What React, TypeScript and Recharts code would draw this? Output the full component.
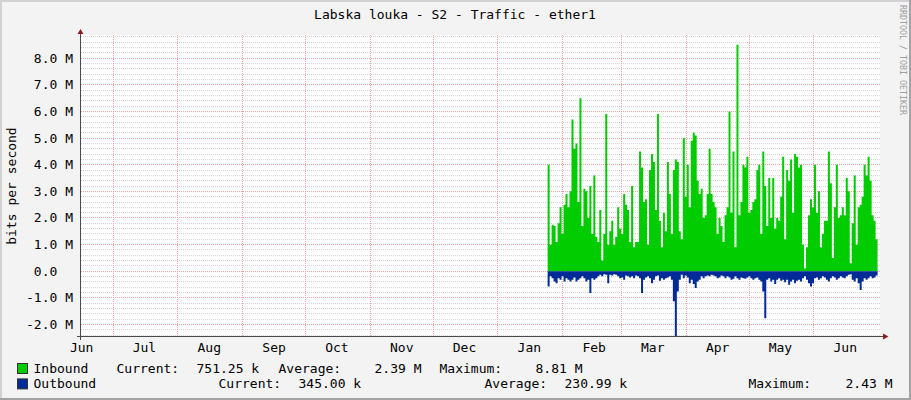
import { ComposedChart, Area, XAxis, YAxis, ReferenceLine } from "recharts"

// days counted from 1 Jun of the first year
const monthStartDays = [30, 61, 92, 122, 153, 183, 214, 245, 273, 304, 334, 365]
const monthLabelDays = [15, 45, 76, 107, 137, 168, 198, 229, 260, 288, 319, 349, 380]
const monthLabels = ["Jun", "Jul", "Aug", "Sep", "Oct", "Nov", "Dec", "Jan", "Feb", "Mar", "Apr", "May", "Jun"]

const yTicksM = [-2, -1, 0, 1, 2, 3, 4, 5, 6, 7, 8]

// rrd samples, one every SAMPLE_DAYS starting at FIRST_SAMPLE_DAY (values in Mbit/s)
const FIRST_SAMPLE_DAY = 237.74
const SAMPLE_DAYS = 0.95

const inboundM = [
    4.0, 1.0, 1.75, 1.7, 1.1, 1.8, 2.4, 1.4, 2.5, 2.9, 2.4, 3.0, 5.7, 4.6, 4.8, 2.6, 6.5, 1.7, 3.1, 3.0,
    2.0, 3.2, 1.4, 3.6, 1.3, 1.1, 2.3, 0.4, 1.4, 5.9, 1.0, 1.5, 1.9, 1.0, 1.3, 2.4, 1.6, 1.4, 2.9, 2.5,
    2.3,
    1.1, 3.2, 0.9, 1.1, 1.1, 4.5, 3.9, 2.6, 2.7, 1.0, 3.8, 4.4, 4.1, 2.3, 5.9, 1.9, 0.9, 2.2, 1.5, 4.1,
    2.9, 1.4, 3.8, 4.2, 4.1, 1.5, 1.2, 5.0, 2.8, 4.0, 2.4, 4.9, 5.2, 5.1, 3.4, 2.9, 3.1, 2.0, 2.1, 2.9,
    4.6, 2.9, 2.6,
    2.4, 1.4, 2.0, 1.7, 1.1, 2.1, 2.4, 6.0, 2.2, 4.5, 0.9, 8.5, 2.1, 2.6, 4.0, 3.9, 4.3, 2.2, 2.3, 2.6,
    2.7, 3.8, 4.0, 1.4, 4.5, 3.2, 1.7, 3.5, 2.0, 3.5, 1.6, 2.0, 1.9, 2.8, 4.3, 1.2, 3.8, 3.4, 4.2, 2.2,
    4.4, 4.3, 3.9,
    4.0, 1.0, 0.1, 0.9, 2.1, 2.7, 2.4, 4.0, 2.2, 3.0, 0.9, 1.4, 1.9, 1.9, 4.5, 3.3, 0.5, 2.4, 4.0, 2.0,
    2.1, 2.4, 2.1, 3.5, 3.0, 0.3, 1.8, 3.6, 1.0, 2.4, 2.5, 2.8, 4.0, 3.6, 4.3, 3.4, 2.1, 1.9, 1.2, 0.75,
]

const outboundM = [
    -0.57, -0.19, -0.26, -0.38, -0.45, -0.26, -0.32, -0.19, -0.38, -0.26, -0.32, -0.38, -0.32, -0.23, -0.38, -0.32, -0.26, -0.19, -0.26, -0.38,
    -0.32, -0.82, -0.26, -0.32, -0.26, -0.19, -0.13, -0.19, -0.11, -0.13, -0.45, -0.13, -0.16, -0.11, -0.13, -0.19, -0.26, -0.23, -0.32, -0.16,
    -0.19,
    -0.23, -0.19, -0.26, -0.16, -0.19, -0.26, -0.82, -0.32, -0.23, -0.19, -0.26, -0.45, -0.32, -0.19, -0.16, -0.36, -0.26, -0.32, -0.26, -0.23,
    -0.19, -0.32, -1.13, -2.43, -0.76, -0.32, -0.13, -0.26, -0.16, -0.23, -0.45, -0.32, -0.48, -0.63, -0.38, -0.32, -0.19, -0.26, -0.19, -0.16,
    -0.19, -0.13, -0.16,
    -0.19, -0.26, -0.23, -0.16, -0.19, -0.26, -0.19, -0.23, -0.32, -0.28, -0.19, -0.26, -0.32, -0.23, -0.26, -0.28, -0.23, -0.19, -0.26, -0.32,
    -0.26, -0.23, -0.32, -0.38, -0.76, -1.76, -0.32, -0.26, -0.38, -0.32, -0.48, -0.32, -0.26, -0.36, -0.32, -0.41, -0.32, -0.51, -0.38, -0.32,
    -0.45, -0.36, -0.32,
    -0.38, -0.26, -0.19, -0.32, -0.45, -0.57, -0.45, -0.26, -0.23, -0.32, -0.26, -0.19, -0.23, -0.32, -0.38, -0.26, -0.19, -0.23, -0.32, -0.26,
    -0.19, -0.23, -0.26, -0.19, -0.13, -0.11, -0.32, -0.38, -0.26, -0.45, -0.70, -0.38, -0.26, -0.32, -0.26, -0.19, -0.26, -0.23, -0.16, -0.35,
]

const legendRows = [
    { name: "Inbound", color: "#00CC00", cells: [["Current:", 117], ["751.25 k", 197], ["Average:", 279], ["2.39 M", 375], ["Maximum:", 440], ["8.81 M", 536]] },
    { name: "Outbound", color: "#002A97", cells: [["Current:", 219], ["345.00 k", 299], ["Average:", 485], ["230.99 k", 565], ["Maximum:", 749], ["2.43 M", 846]] },
]

const M = 1e6
const data = inboundM.map((v, i) => ({
    day: FIRST_SAMPLE_DAY + i * SAMPLE_DAYS,
    inbound: v * M,
    outbound: outboundM[i] * M,
}))

const minorGrid: number[] = []
for (let i = -12; i <= 44; i++) {
    if (i % 5 !== 0) minorGrid.push((i / 5) * M)
}

const X_DOMAIN = [14.7, 396.6]
const Y_DOMAIN = [-2.43 * M, 8.87 * M]
const W = 911
const H = 400

const FONT = "'DejaVu Sans Mono', monospace"
const CHAR = 7.83

const YTick = (props: any) => {
    const { x, y, payload } = props
    const v = payload.value / M
    const label = v === 0 ? "0.0" : `${v.toFixed(1)} M`
    // x sits on the axis line (tickSize/tickMargin are 0)
    return (
        <text x={v === 0 ? x - 8 - 2 * CHAR : x - 8} y={y + 4.5} textAnchor="end" fontFamily={FONT} fontSize={13} fill="#000">
            {label}
        </text>
    )
}

const XTick = (props: any) => {
    const { x, y, payload } = props
    const idx = monthLabelDays.indexOf(payload.value)
    return (
        <text x={x} y={y + 15.5} textAnchor="middle" fontFamily={FONT} fontSize={13} fill="#000">
            {monthLabels[idx]}
        </text>
    )
}

const GRID_MINOR = "#d6d6d6"
const GRID_MAJOR = "#f2a2a2"

export default function App() {
    return (
        <div style={{ position: "absolute", left: 0, top: 0, width: W, height: H, background: "#F3F3F3" }}>
            <div style={{ position: "absolute", left: 81, top: 35, width: 799, height: 301, background: "#fff" }} />
            {/* grid + axes */}
            <div style={{ position: "absolute", left: 0, top: 0 }}>
                <ComposedChart width={W} height={H} data={data} margin={{ top: 35, right: 31, bottom: 0, left: 0 }}>
                    <XAxis
                        dataKey="day"
                        type="number"
                        domain={X_DOMAIN}
                        ticks={monthLabelDays}
                        allowDataOverflow
                        height={64}
                        tickSize={0}
                        tickMargin={0}
                        tick={XTick}
                        axisLine={false}
                        tickLine={false}
                        interval={0}
                    />
                    <YAxis
                        type="number"
                        domain={Y_DOMAIN}
                        ticks={yTicksM.map((t) => t * M)}
                        allowDataOverflow
                        width={81}
                        tickSize={0}
                        tickMargin={0}
                        tick={YTick}
                        axisLine={false}
                        tickLine={false}
                        interval={0}
                    />
                    {minorGrid.map((v) => (
                        <ReferenceLine key={"m" + v} y={v} stroke={GRID_MINOR} strokeDasharray="1 1" shapeRendering="crispEdges" />
                    ))}
                    {yTicksM.map((t) => (
                        <ReferenceLine key={"M" + t} y={t * M} stroke={GRID_MAJOR} strokeDasharray="1 1" shapeRendering="crispEdges" />
                    ))}
                    {monthStartDays.map((d) => (
                        <ReferenceLine key={"d" + d} x={d} stroke={GRID_MAJOR} strokeDasharray="1 1" shapeRendering="crispEdges" />
                    ))}
                </ComposedChart>
            </div>
            {/* traffic areas, drawn on top of the grid */}
            <div style={{ position: "absolute", left: 0, top: 0 }}>
                <ComposedChart width={W} height={H} data={data} margin={{ top: 35, right: 31, bottom: 64, left: 81 }}>
                    <XAxis dataKey="day" type="number" domain={X_DOMAIN} allowDataOverflow hide />
                    <YAxis type="number" domain={Y_DOMAIN} allowDataOverflow hide />
                    <Area
                        dataKey="inbound"
                        type="stepAfter"
                        baseValue={0}
                        stroke="none"
                        fill="#00CC00"
                        fillOpacity={1}
                        isAnimationActive={false}
                    />
                    <Area
                        dataKey="outbound"
                        type="stepAfter"
                        baseValue={0}
                        stroke="none"
                        fill="#002A97"
                        fillOpacity={1}
                        isAnimationActive={false}
                    />
                </ComposedChart>
            </div>
            <svg width={W} height={H} style={{ position: "absolute", left: 0, top: 0, pointerEvents: "none" }}>
                <rect x={0} y={0} width={W} height={2} fill="#d2d2d2" />
                <rect x={0} y={0} width={2} height={H} fill="#d2d2d2" />
                <rect x={0} y={398} width={W} height={2} fill="#a3a3a3" />
                <rect x={909} y={0} width={2} height={H} fill="#a3a3a3" />
                <line x1={80.5} y1={33} x2={80.5} y2={340} stroke="#4a4a4a" />
                <line x1={77} y1={336.5} x2={884} y2={336.5} stroke="#4a4a4a" />
                <polygon points="80.5,29 77.5,34 83.5,34" fill="#8c1c1c" />
                <polygon points="888.5,336.5 883,333.5 883,339.5" fill="#8c1c1c" />
                <text x={455} y={18.5} textAnchor="middle" fontFamily={FONT} fontSize={13} fill="#000">
                    Labska louka - S2 - Traffic - ether1
                </text>
                <text
                    x={11}
                    y={186}
                    transform="rotate(-90 11 186)"
                    textAnchor="middle"
                    dominantBaseline="central"
                    fontFamily={FONT}
                    fontSize={13}
                    fill="#000"
                >
                    bits per second
                </text>
                <text
                    x={903}
                    y={60}
                    transform="rotate(90 903 60)"
                    textAnchor="middle"
                    dominantBaseline="central"
                    fontFamily={FONT}
                    fontSize={8.3}
                    fill="#a0a0a0"
                >
                    RRDTOOL / TOBI OETIKER
                </text>
                {legendRows.map((row, r) => (
                    <g key={row.name}>
                        <rect x={17.5} y={363.5 + r * 15.4} width={10} height={10} fill={row.color} stroke="#333" />
                        <text x={33.5} y={372.5 + r * 15.4} fontFamily={FONT} fontSize={13} fill="#000">
                            {row.name}
                        </text>
                        {row.cells.map(([txt, x]) => (
                            <text key={String(txt) + x} x={Number(x) - 0.5} y={372.5 + r * 15.4} fontFamily={FONT} fontSize={13} fill="#000">
                                {txt}
                            </text>
                        ))}
                    </g>
                ))}
            </svg>
        </div>
    )
}
